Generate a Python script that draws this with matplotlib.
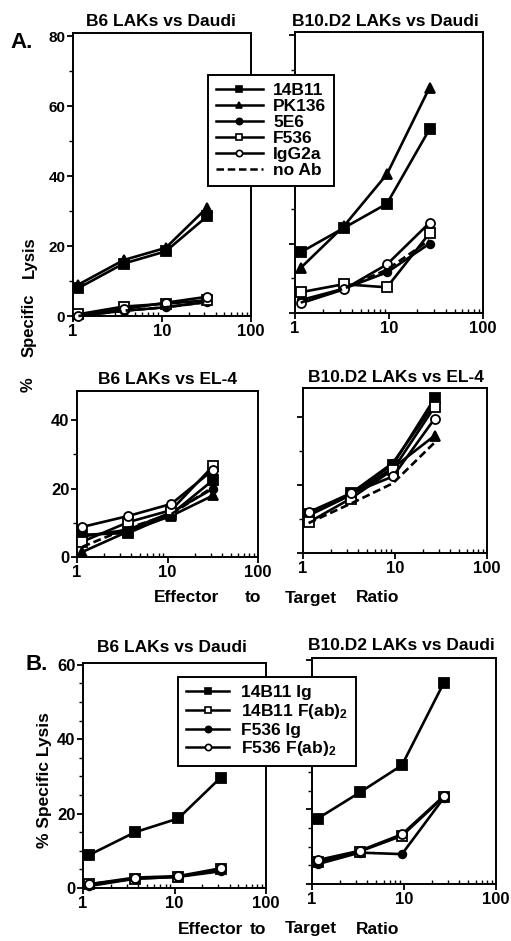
import matplotlib
matplotlib.use("Agg")
import matplotlib.pyplot as plt
from matplotlib.lines import Line2D
from matplotlib.ticker import MultipleLocator, FixedLocator, NullFormatter, FixedFormatter

plt.rcParams['font.family'] = ['Liberation Sans', 'DejaVu Sans']
plt.rcParams['font.weight'] = 'bold'
plt.rcParams['mathtext.fontset'] = 'custom'
plt.rcParams['mathtext.rm'] = 'Liberation Sans:bold'
plt.rcParams['mathtext.bf'] = 'Liberation Sans:bold'
plt.rcParams['mathtext.default'] = 'bf'

# ---------------- data ----------------
et_left = [1.15, 3.7, 11, 32]
et_right = [1.15, 3.3, 9.5, 27]

series_A = ["14B11", "PK136", "5E6", "F536", "IgG2a", "no Ab"]

# Panel A, B6 LAKs vs Daudi
b6_daudi = {
    "14B11": [8, 15, 18.5, 28.5],
    "PK136": [9, 16, 19.5, 31],
    "5E6":   [0, 1.5, 2.5, 4],
    "F536":  [0.5, 2.7, 3.5, 4.5],
    "IgG2a": [0, 2, 3.8, 5.5],
    "no Ab": [0, 1.5, 2.5, 4],
}
# Panel A, B10.D2 LAKs vs Daudi
b10_daudi = {
    "14B11": [17.5, 24.5, 31.5, 53],
    "PK136": [13, 25, 40, 65],
    "5E6":   [3.7, 7, 11.7, 20],
    "F536":  [6, 8.3, 7.4, 23],
    "IgG2a": [2.8, 6.8, 14, 26],
    "no Ab": [3, 7, 12.5, 21],
}
# Panel A, B6 LAKs vs EL-4
b6_el4 = {
    "14B11": [6.5, 7, 12.5, 22.5],
    "PK136": [1.5, 7.5, 12, 18],
    "5E6":   [6, 8, 13, 20],
    "F536":  [4.5, 10.2, 13.7, 26.6],
    "IgG2a": [8.8, 12, 15.5, 25.5],
    "no Ab": [3, 8.5, 12.5, 20.5],
}
# Panel A, B10.D2 LAKs vs EL-4
b10_el4 = {
    "14B11": [11.5, 17.5, 26, 45.5],
    "PK136": [11, 17, 25, 34.5],
    "5E6":   [11.5, 17.5, 26.5, 44],
    "F536":  [9, 16, 24.5, 43],
    "IgG2a": [12, 17.5, 22.5, 39.5],
    "no Ab": [8.8, 14.5, 20.5, 32.5],
}

series_B = ["14B11 Ig", "14B11 F(ab)2", "F536 Ig", "F536 F(ab)2"]
labels_B = ["14B11 Ig", r"14B11 F(ab)$_{2}$", "F536 Ig", r"F536 F(ab)$_{2}$"]
b6_daudi_B = {
    "14B11 Ig":     [8.8, 15, 18.7, 29.7],
    "14B11 F(ab)2": [1, 2.5, 3, 5],
    "F536 Ig":      [0.5, 2.5, 3, 4.5],
    "F536 F(ab)2":  [1, 2.8, 3.2, 5.3],
}
b10_daudi_B = {
    "14B11 Ig":     [17.5, 24.5, 31.8, 53.8],
    "14B11 F(ab)2": [5.8, 8.7, 12.9, 23.3],
    "F536 Ig":      [5.3, 8.4, 8, 23],
    "F536 F(ab)2":  [6.4, 8.9, 13.3, 23.5],
}

# ---------------- styles ----------------
style = {
    "14B11": dict(marker='s', mfc='black', ls='-'),
    "PK136": dict(marker='^', mfc='black', ls='-'),
    "5E6":   dict(marker='o', mfc='black', ls='-'),
    "F536":  dict(marker='s', mfc='white', ls='-'),
    "IgG2a": dict(marker='o', mfc='white', ls='-'),
    "no Ab": dict(marker='None', mfc='black', ls=(0, (3, 1.5))),
    "14B11 Ig":     dict(marker='s', mfc='black', ls='-'),
    "14B11 F(ab)2": dict(marker='s', mfc='white', ls='-'),
    "F536 Ig":      dict(marker='o', mfc='black', ls='-'),
    "F536 F(ab)2":  dict(marker='o', mfc='white', ls='-'),
}
msize = {"5E6": 5.5, "F536 Ig": 5.5}

W, H = 511, 941
fig = plt.figure(figsize=(W / 100, H / 100), dpi=100)


def box(l, r, t, b):
    return [l / W, 1 - b / H, (r - l) / W, (b - t) / H]


def ftext(x, y, s, **kw):
    fig.text(x / W, 1 - y / H, s, ha='center', va='center', **kw)


def make_ax(rect, ylim, major, minor, ylabels, xfs, yfs):
    ax = fig.add_axes(rect)
    ax.set_xscale('log')
    ax.set_xlim(1, 100)
    ax.set_ylim(*ylim)
    ax.xaxis.set_major_locator(FixedLocator([1, 10, 100]))
    ax.xaxis.set_major_formatter(FixedFormatter(["1", "10", "100"]))
    ax.xaxis.set_minor_locator(FixedLocator([2, 3, 4, 5, 6, 7, 8, 9, 20, 30, 40, 50, 60, 70, 80, 90]))
    ax.xaxis.set_minor_formatter(NullFormatter())
    ax.yaxis.set_major_locator(MultipleLocator(major))
    ax.yaxis.set_minor_locator(MultipleLocator(minor))
    if not ylabels:
        ax.yaxis.set_major_formatter(NullFormatter())
    for s in ax.spines.values():
        s.set_linewidth(1.4)
    ax.tick_params(axis='x', which='major', direction='out', length=4, width=1.3,
                   labelsize=xfs, pad=2)
    ax.tick_params(axis='x', which='minor', direction='in', length=3, width=1.0)
    ax.tick_params(axis='y', which='major', direction='out', length=4, width=1.3,
                   labelsize=yfs, pad=1.5)
    ax.tick_params(axis='y', which='minor', direction='out', length=3, width=1.0)
    return ax


def draw(ax, xs, data, order):
    for name in order:
        st = style[name]
        ax.plot(xs, data[name], color='black', lw=1.9, ls=st['ls'], marker=st['marker'],
                mfc=st['mfc'], mec='black', mew=1.3, ms=msize.get(name, 6.5), clip_on=False,
                zorder=3)


# Panel A
ax1 = make_ax(box(73, 251, 33, 316), (0, 81), 20, 10, True, 12, 11)
ax2 = make_ax(box(295, 483, 32, 313), (0, 81), 20, 10, False, 12, 11)
ax3 = make_ax(box(77, 258, 391, 557), (0, 48.5), 20, 10, True, 12, 12)
ax4 = make_ax(box(303, 487, 388, 553), (0, 48.5), 20, 10, False, 12, 12)
draw(ax1, et_left, b6_daudi, series_A)
draw(ax2, et_right, b10_daudi, series_A)
draw(ax3, et_left, b6_el4, series_A)
draw(ax4, et_right, b10_el4, series_A)

# Panel B
ax5 = make_ax(box(83, 266, 663, 888), (0, 60.5), 20, 5, True, 12, 12)
ax6 = make_ax(box(312, 496, 658, 884), (0, 60.5), 20, 5, False, 12, 12)
draw(ax5, et_left, b6_daudi_B, series_B)
draw(ax6, et_right, b10_daudi_B, series_B)

# titles
tfs = 12.5
ftext(161, 22, "B6 LAKs vs Daudi", fontsize=tfs)
ftext(385, 21, "B10.D2 LAKs vs Daudi", fontsize=tfs)
ftext(167, 379, "B6 LAKs vs EL-4", fontsize=tfs)
ftext(396, 377, "B10.D2 LAKs vs EL-4", fontsize=tfs)
ftext(172, 647, "B6 LAKs vs Daudi", fontsize=tfs)
ftext(401, 645, "B10.D2 LAKs vs Daudi", fontsize=tfs)

# panel letters
ftext(22, 42, "A.", fontsize=16)
ftext(37, 664, "B.", fontsize=16)

# y labels
ftext(29, 257, "Lysis", fontsize=12, rotation=90)
ftext(29, 325, "Specific", fontsize=12, rotation=90)
ftext(28, 385, "%", fontsize=12, rotation=90)
ftext(45, 780, "% Specific Lysis", fontsize=12.5, rotation=90)

# x labels
for (x, s) in [(187, "Effector"), (253, "to"), (311, "Target"), (378, "Ratio")]:
    ftext(x, 598, s, fontsize=12.5)
for (x, s) in [(211, "Effector"), (258, "to"), (311, "Target"), (378, "Ratio")]:
    ftext(x, 929, s, fontsize=12.5)


def handles_for(order):
    hs = []
    for name in order:
        st = style[name]
        hs.append(Line2D([], [], color='black', lw=1.8, ls=st['ls'], marker=st['marker'],
                         mfc=st['mfc'], mec='black', mew=1.2, ms=4.5))
    return hs


legA = fig.legend(handles_for(series_A), series_A, loc='upper left',
                  bbox_to_anchor=(208 / W, 1 - 75 / H), bbox_transform=fig.transFigure,
                  borderaxespad=0, frameon=True, fancybox=False, framealpha=1,
                  edgecolor='black', facecolor='white', fontsize=12.5,
                  handlelength=2.7, handletextpad=0.6, labelspacing=0.05,
                  borderpad=0.45)
legA.get_frame().set_linewidth(1.4)

legB = fig.legend(handles_for(series_B), labels_B, loc='upper left',
                  bbox_to_anchor=(178 / W, 1 - 677 / H), bbox_transform=fig.transFigure,
                  borderaxespad=0, frameon=True, fancybox=False, framealpha=1,
                  edgecolor='black', facecolor='white', fontsize=12.5,
                  handlelength=2.5, handletextpad=0.7, labelspacing=0.1,
                  borderpad=0.45)
legB.get_frame().set_linewidth(1.4)

fig.savefig("out.png", dpi=100)
